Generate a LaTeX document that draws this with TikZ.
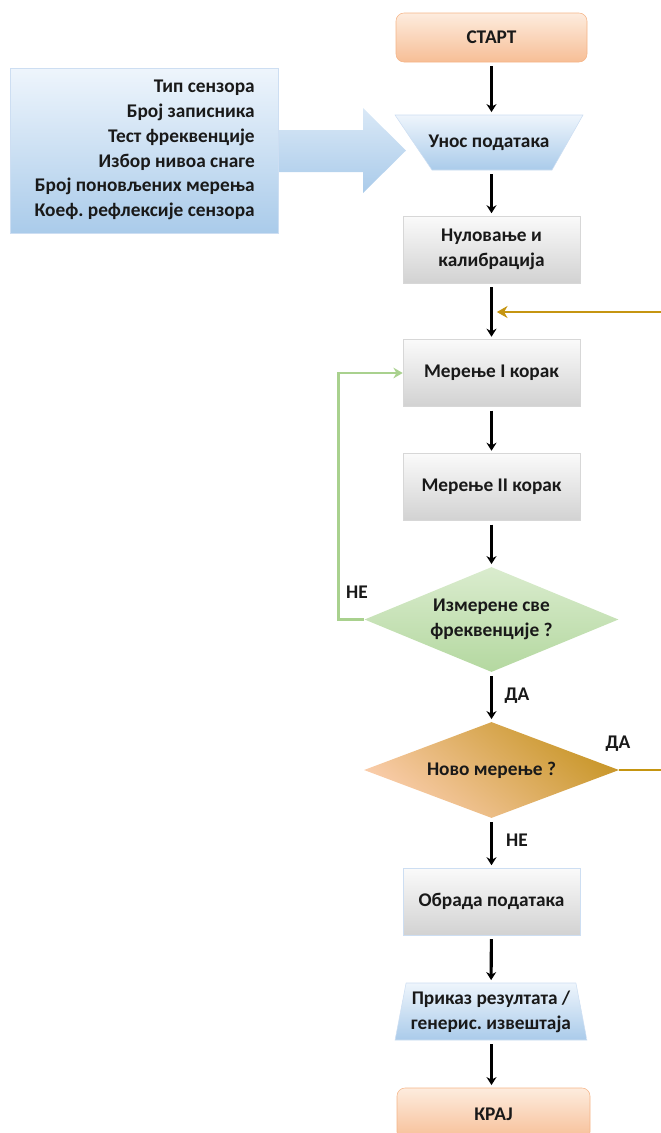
\documentclass[tikz,border=0pt]{standalone}
\usepackage{fontspec}
\setmainfont{Carlito}
\frenchspacing
\usetikzlibrary{shapes.geometric,arrows.meta}

\definecolor{peachtop}{RGB}{253,236,222}
\definecolor{peachbot}{RGB}{247,190,150}
\definecolor{peachline}{RGB}{245,180,135}
\definecolor{skytop}{RGB}{238,245,252}
\definecolor{skybot}{RGB}{170,203,234}
\definecolor{skyline}{RGB}{205,222,242}
\definecolor{greytop}{RGB}{250,250,250}
\definecolor{greybot}{RGB}{210,210,210}
\definecolor{greyline}{RGB}{215,215,215}
\definecolor{leaftop}{RGB}{218,236,206}
\definecolor{leafbot}{RGB}{180,216,160}
\definecolor{leafline}{RGB}{169,209,142}
\definecolor{goldline}{RGB}{197,149,17}
\definecolor{golddark}{RGB}{200,150,40}
\definecolor{goldlight}{RGB}{250,205,172}
\definecolor{inktext}{RGB}{25,25,25}

\begin{document}
\begin{tikzpicture}[x=0.75pt,y=0.75pt,yscale=-1,xscale=1,
  font=\fontsize{14.5}{18.6}\selectfont\bfseries, text=inktext,
  terminal/.style={rectangle, rounded corners=6pt, draw=peachline, top color=peachtop, bottom color=peachbot, minimum width=143.25pt, minimum height=36.75pt},
  process/.style={rectangle, draw=greyline, top color=greytop, bottom color=greybot, minimum width=132.75pt, minimum height=50pt, align=center},
  io/.style={trapezium, trapezium stretches=true, draw=skyline, top color=skytop, bottom color=skybot, align=center, inner sep=0pt},
  flowarrow/.style={draw=black, line width=2.3pt, -{Stealth[length=6pt,width=7.5pt]}, shorten <=3pt, shorten >=2pt},
  loopline/.style={draw=leafline, line width=2pt, -{Stealth[length=7pt,width=8pt]}},
  backline/.style={draw=goldline, line width=2pt, -{Stealth[length=8pt,width=9pt]}, shorten >=4pt}]
\useasboundingbox (0,0) rectangle (661,1133);

%Shape: Block Arrow
\coordinate (tip) at (406,150.5);
\draw [draw=none, top color=skytop!70!skybot, bottom color=skybot] (250,130) -- (363,130) -- (363,108) -- (tip) -- (363,193) -- (363,172) -- (250,172) -- cycle;

%Shape: Parameter list
\node [rectangle, draw=skyline, top color=skytop, bottom color=skybot, minimum width=201pt, minimum height=123.75pt] (params) at (144,150.5) {};
\node [anchor=east, align=right, inner sep=0pt] (paramtext) at (255,150) {Тип сензора\\Број записника\\Тест фреквенције\\Избор нивоа снаге\\Број поновљених мерења\\Коеф. рефлексије сензора};

%Shape: Input trapezium (wide top)
\draw [draw=skyline, top color=skytop, bottom color=skybot] (395,115) -- (583,115) -- (552,170) -- (432,170) -- cycle;

% Flow nodes
\node [terminal] (start) at (491.5,37.5) {СТАРТ};
\node [rectangle, minimum height=41.25pt] (input) at (489,142.5) {Унос података};
\node [process] (calib) at (491.5,249.5) {Нуловање и\\калибрација};
\node [process] (step1) at (491.5,373) {Мерење I корак};
\node [process] (step2) at (491.5,487) {Мерење II корак};
\node [diamond, draw=none, top color=leaftop, bottom color=leafbot, align=center, inner sep=0pt, aspect=2.4, minimum width=190.5pt, minimum height=78.75pt] (allfreq) at (491.5,619.5) {Измерене све\\фреквенције ?};
\node [diamond, draw=none, top color=golddark, bottom color=goldlight, shading angle=-40, inner sep=0pt, aspect=2.6, minimum width=191.25pt, minimum height=72pt] (newmeas) at (491.5,770) {Ново мерење ?};
\node [process, draw=skyline] (proc) at (491.5,901.5) {Обрада података};
\node [io, trapezium left angle=76, trapezium right angle=76, minimum width=144pt, minimum height=42.75pt] (report) at (491,1011.5) {Приказ резултата /\\генерис. извештаја};
\node [terminal, minimum width=144.75pt, minimum height=39pt] (stop) at (493.5,1114) {КРАЈ};

% Connectors
\coordinate (join) at (491.5,312);
\draw [flowarrow] (start) -- (start |- input.north);
\draw [flowarrow] (input.south -| start) -- (calib);
\draw [flowarrow, line width=2.9pt] (calib) -- (step1);
\draw [flowarrow] (step1) -- (step2);
\draw [flowarrow] (step2) -- (allfreq);
\draw [flowarrow] (allfreq) -- (newmeas);
\draw [flowarrow] (newmeas) -- (proc);
\draw [flowarrow] (proc) -- (report);
\draw [flowarrow] (report.south -| proc) -- (stop.north -| proc);
\draw [loopline] (allfreq.west) -- ++(-26,0) |- (step1.west);
\draw [backline] (newmeas.east) -- ++(80,0) |- (join);

% Text Node
\node (no1) at (357,592) {НЕ};
\node (yes1) at (517,696) {ДА};
\node (yes2) at (618,744) {ДА};
\node (no2) at (517,840) {НЕ};

\end{tikzpicture}
\end{document}
